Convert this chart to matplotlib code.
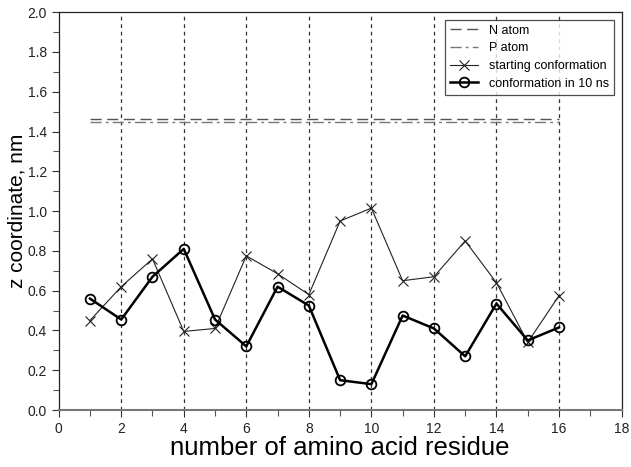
import matplotlib
matplotlib.use("Agg")
import matplotlib.pyplot as plt
from matplotlib.ticker import MultipleLocator, FormatStrFormatter

residues = list(range(1, 17))
starting = [0.45, 0.62, 0.76, 0.395, 0.41, 0.775, 0.685, 0.58, 0.95, 1.015, 0.65, 0.67, 0.85, 0.64, 0.34, 0.575]
conf_10ns = [0.56, 0.455, 0.67, 0.81, 0.455, 0.32, 0.62, 0.525, 0.15, 0.13, 0.475, 0.41, 0.27, 0.535, 0.35, 0.415]
n_atom = [1.462, 1.462]
p_atom = [1.448, 1.448]
atom_x = [1, 16]
vlines_x = [2, 4, 6, 8, 10, 12, 14, 16]

tick_font = ['Liberation Sans Narrow', 'Liberation Sans', 'DejaVu Sans']
plt.rcParams['font.family'] = ['Liberation Sans', 'DejaVu Sans']

fig = plt.figure(figsize=(6.31, 4.67), dpi=100)
ax = fig.add_axes([0.093, 0.122, 0.892, 0.852])

for xv in vlines_x:
    ax.axvline(xv, color='#333333', linestyle=(0, (3, 3)), linewidth=0.9, zorder=1)

ax.plot(atom_x, n_atom, color='#555555', linestyle=(0, (8, 4)), linewidth=1.0, label='N atom')
ax.plot(atom_x, p_atom, color='#777777', linestyle=(0, (8, 3, 2, 3)), linewidth=1.0, label='P atom')
ax.plot(residues, starting, color='#222222', linewidth=0.8, marker='x', markersize=7.5,
        markeredgewidth=0.8, label='starting conformation')
ax.plot(residues, conf_10ns, color='black', linewidth=1.8, marker='o', markersize=7,
        markerfacecolor='none', markeredgewidth=1.3, label='conformation in 10 ns')

ax.xaxis.set_major_locator(MultipleLocator(2))
ax.xaxis.set_minor_locator(MultipleLocator(1))
ax.yaxis.set_major_locator(MultipleLocator(0.2))
ax.yaxis.set_minor_locator(MultipleLocator(0.1))
ax.yaxis.set_major_formatter(FormatStrFormatter('%.1f'))
ax.set_xlim(0, 18)
ax.set_ylim(0, 2.0)

ax.tick_params(axis='both', which='major', direction='out', length=5, width=0.8,
               labelsize=10, colors='#333333', labelcolor='#222222')
ax.tick_params(axis='both', which='minor', direction='out', length=4, width=0.8, colors='#555555')
fig.canvas.draw()
for lab in ax.get_xticklabels() + ax.get_yticklabels():
    lab.set_family(tick_font)

ax.spines['bottom'].set_color('#777777')
ax.spines['bottom'].set_linewidth(1.5)
for s in ['left', 'top', 'right']:
    ax.spines[s].set_color('#222222')
    ax.spines[s].set_linewidth(0.9)

ax.set_xlabel('number of amino acid residue', fontsize=18.5, labelpad=0)
ax.set_ylabel('z coordinate, nm', fontsize=15, labelpad=1)

leg = ax.legend(loc='upper right', fontsize=9, frameon=True, fancybox=False,
                edgecolor='#222222', handlelength=2.2, handletextpad=0.9,
                borderaxespad=0.6, labelspacing=0.45)
leg.get_frame().set_linewidth(0.9)

fig.savefig('out.png', dpi=100)
